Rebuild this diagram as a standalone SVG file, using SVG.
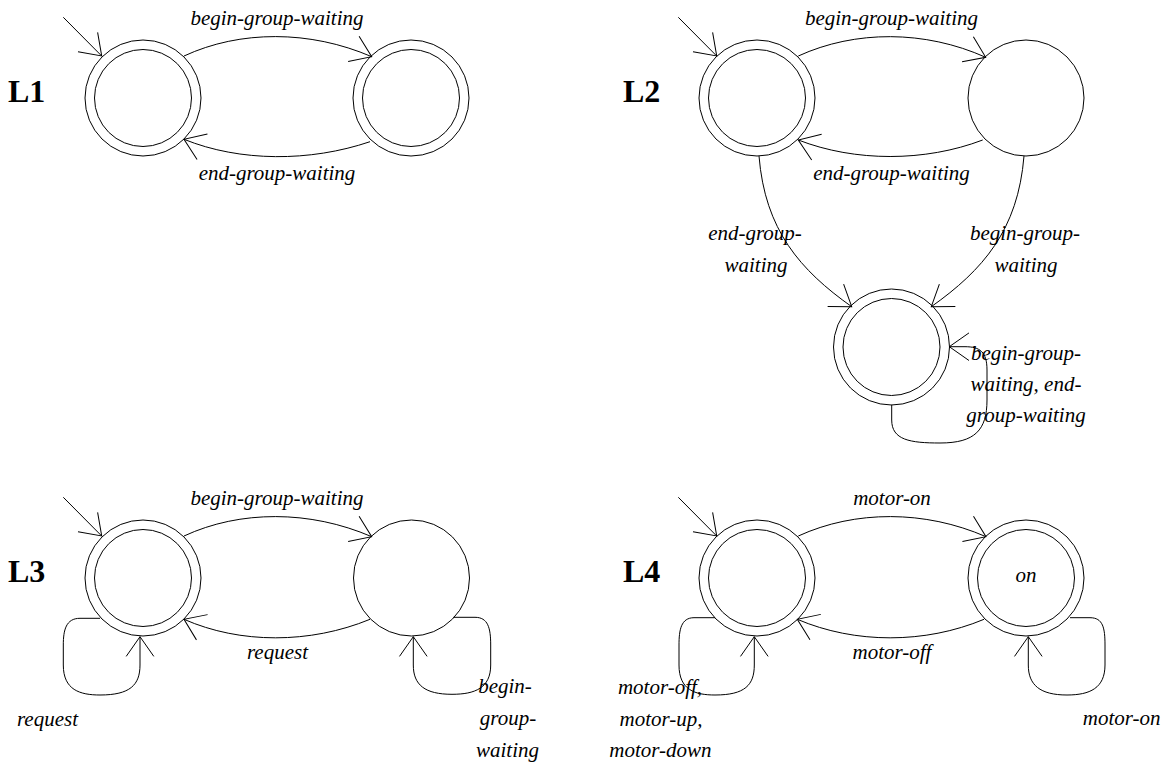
<svg xmlns="http://www.w3.org/2000/svg" width="1167" height="766" viewBox="0 0 1167 766">
<style>
.st{fill:none;stroke:#000;stroke-width:1}
.e{fill:none;stroke:#000;stroke-width:1;marker-end:url(#ah)}
.lb{font-family:"Liberation Serif","Times New Roman",serif;font-style:italic;font-size:21px;fill:#000;text-anchor:middle}
.tt{font-family:"Liberation Serif","Times New Roman",serif;font-weight:bold;font-size:32px;fill:#000}
</style>
<defs>
<marker id="ah" markerUnits="userSpaceOnUse" markerWidth="30" markerHeight="30" viewBox="-22 -15 24 30" refX="0" refY="0" orient="auto" overflow="visible">
<path d="M-19.7,-13.8 L0,0 L-19.7,13.8" fill="none" stroke="#000" stroke-width="1"/>
</marker>
</defs>
<rect width="1167" height="766" fill="#fff"/>

<!-- L1 -->
<text class="tt" x="8" y="102">L1</text>
<g id="L1-s0"><circle class="st" cx="143" cy="98" r="58"/><circle class="st" cx="143" cy="98" r="48.5"/></g>
<g id="L1-s1"><circle class="st" cx="411" cy="98" r="58"/><circle class="st" cx="411" cy="98" r="48.5"/></g>

<!-- L2 -->
<text class="tt" x="623" y="102">L2</text>
<g id="L2-s0"><circle class="st" cx="757" cy="98" r="58"/><circle class="st" cx="757" cy="98" r="48.5"/></g>
<g id="L2-s1"><circle class="st" cx="1026" cy="98" r="58"/></g>
<g id="L2-s2"><circle class="st" cx="891.5" cy="347" r="58"/><circle class="st" cx="891.5" cy="347" r="48.5"/></g>

<!-- L3 -->
<text class="tt" x="8" y="582">L3</text>
<g id="L3-s0"><circle class="st" cx="143" cy="578" r="58"/><circle class="st" cx="143" cy="578" r="48.5"/></g>
<g id="L3-s1"><circle class="st" cx="411.5" cy="578" r="58"/></g>

<!-- L4 -->
<text class="tt" x="623" y="582">L4</text>
<g id="L4-s0"><circle class="st" cx="757" cy="578" r="58"/><circle class="st" cx="757" cy="578" r="48.5"/></g>
<g id="L4-s1"><circle class="st" cx="1026" cy="578" r="58"/><circle class="st" cx="1026" cy="578" r="48.5"/><text class="lb" x="1026" y="582">on</text></g>

<g id="connectors">
<!-- initial arrows -->
<path class="e" d="M63.3,17.3 L101.7,56"/>
<path class="e" d="M678.3,17.3 L716.7,56"/>
<path class="e" d="M63.3,497.3 L101.7,536"/>
<path class="e" d="M678.3,497.3 L716.7,536"/>

<!-- L1 -->
<path class="e" d="M184,56 C240,30 310,30 371.7,56.7"/>
<path class="e" d="M370,141.7 C310,162 240,162 184,139.3"/>
<text class="lb" x="277" y="25">begin-group-waiting</text>
<text class="lb" x="277" y="180">end-group-waiting</text>

<!-- L2 -->
<path class="e" d="M798.3,56 C855,30 925,30 985.7,57.3"/>
<path class="e" d="M982.7,140 C925,162 855,162 798.3,140"/>
<path class="e" d="M759,156 C765,230 800,270 851.7,306.7"/>
<path class="e" d="M1024,156 C1018,230 983,270 931.3,306.7"/>
<path class="e" d="M891.7,404.7 V420 C891.7,440 910,443 940,443 C975,443 987,430 987,400 V370 C987,352 980,346.7 965,346.7 H949.3"/>
<text class="lb" x="891.5" y="25">begin-group-waiting</text>
<text class="lb" x="891.5" y="180">end-group-waiting</text>
<text class="lb" x="755" y="240">end-group-</text>
<text class="lb" x="756" y="272">waiting</text>
<text class="lb" x="1025" y="240">begin-group-</text>
<text class="lb" x="1026" y="272">waiting</text>
<text class="lb" x="1026" y="360">begin-group-</text>
<text class="lb" x="1026" y="391">waiting, end-</text>
<text class="lb" x="1026" y="422">group-waiting</text>

<!-- L3 -->
<path class="e" d="M184,536 C240,510 310,510 371.7,536.7"/>
<path class="e" d="M370,619.3 C310,644 240,644 184,619.3"/>
<path class="e" d="M100,618.3 H80 C66,618.3 63.3,630 63.3,645 V665 C63.3,690 80,695 100,695 C130,695 140,685 140,665 V636.7"/>
<path class="e" d="M453.3,617.3 H475 C488,617.3 490.7,628 490.7,645 V665 C490.7,688 475,694.3 452,694.3 C425,694.3 413.3,685 413.3,665 V636.7"/>
<text class="lb" x="277" y="505">begin-group-waiting</text>
<text class="lb" x="277.5" y="659">request</text>
<text class="lb" x="47.5" y="726">request</text>
<text class="lb" x="505" y="693">begin-</text>
<text class="lb" x="508" y="725">group-</text>
<text class="lb" x="507.5" y="757">waiting</text>

<!-- L4 -->
<path class="e" d="M798.3,536 C855,510 925,510 986,536.7"/>
<path class="e" d="M984,619.3 C925,644 855,644 797.3,619.3"/>
<path class="e" d="M715,617.7 H694 C681,617.7 679,630 679,645 V665 C679,690 695,695 715,695 C745,695 754.3,685 754.3,665 V636.7"/>
<path class="e" d="M1070,617.7 H1090 C1103,617.7 1105,628 1105,645 V665 C1105,688 1090,695 1067,695 C1040,695 1028.3,685 1028.3,665 V636.7"/>
<text class="lb" x="892" y="505">motor-on</text>
<text class="lb" x="892" y="659">motor-off</text>
<text class="lb" x="660" y="694">motor-off,</text>
<text class="lb" x="661" y="726">motor-up,</text>
<text class="lb" x="660.5" y="757">motor-down</text>
<text class="lb" x="1121.7" y="725">motor-on</text>
</g>
</svg>
